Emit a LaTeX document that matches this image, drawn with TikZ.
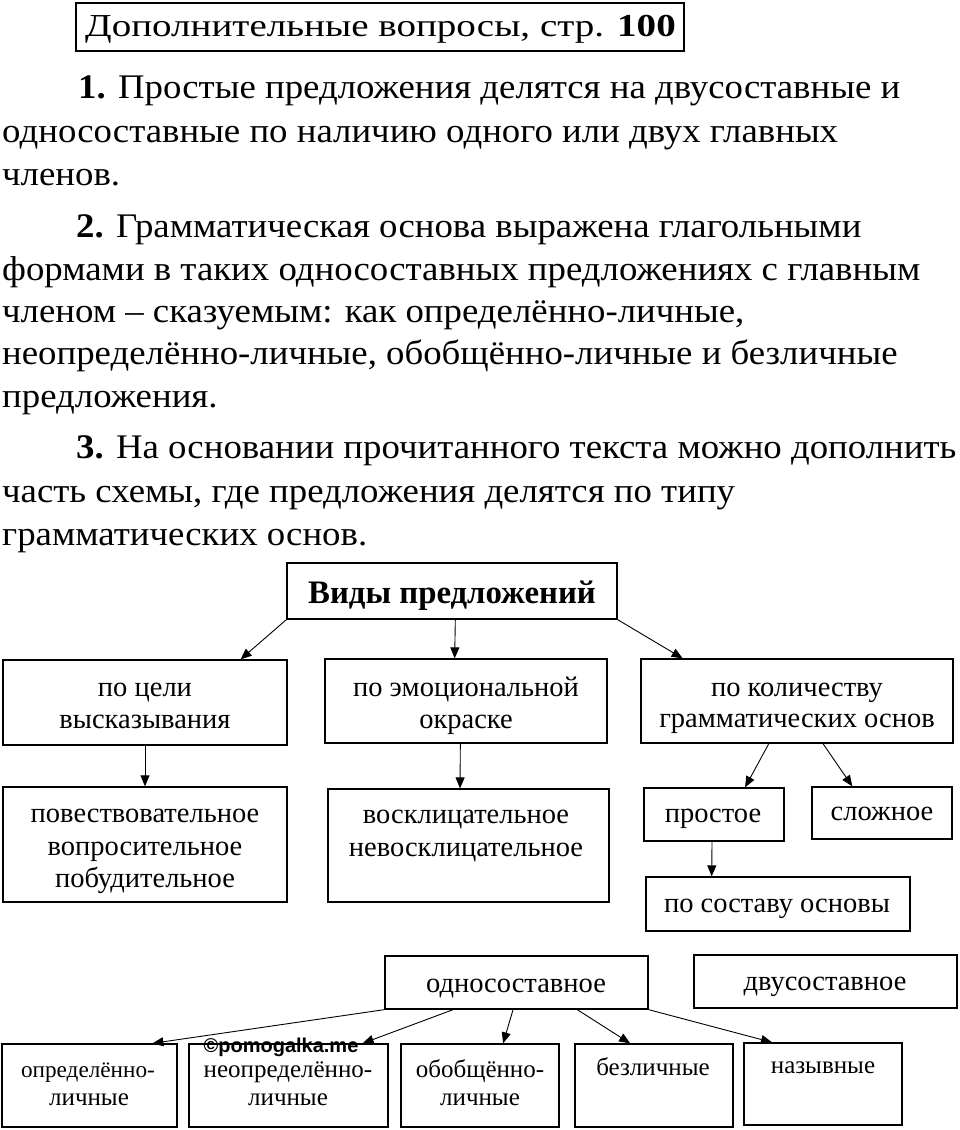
\documentclass[tikz,border=0pt]{standalone}
\usepackage{graphicx}
\usepackage{fontspec}
\setmainfont{Liberation Serif}
\newfontfamily\wmfont{Liberation Sans}
\usetikzlibrary{calc,arrows.meta}
\def\wide#1#2{\scalebox{#1}[1]{#2}}

\begin{document}
\begin{tikzpicture}[x=1pt,y=-1pt,
		box/.style={draw, line width=1.3pt, inner sep=0pt},
		txt/.style={anchor=base, inner sep=0pt, font=\fontsize{28.5}{32}\selectfont},
		small/.style={anchor=base, inner sep=0pt, font=\fontsize{25}{30}\selectfont},
		body/.style={anchor=base west, inner sep=0pt, font=\fontsize{34.5}{40}\selectfont},
		arr/.style={-{Triangle[length=11pt,width=9pt]}, line width=0.9pt}]
		\useasboundingbox (0,0) rectangle (960,1130);
		%%%%% TEXT %%%%%
		\node[draw, line width=2.6pt, minimum width=608pt, minimum height=48pt] (head) at (380,27) {};
		\node[anchor=base west, inner sep=0pt, font=\fontsize{32}{36}\selectfont] (headtxt) at (85,36) {\wide{1.22}{Дополнительные вопросы, стр. \textbf{100}}};
		
		\node[body] (p1a) at (78,98) {\wide{1.067}{\textbf{1.} Простые предложения делятся на двусоставные и}};
		\node[body] (p1b) at (2,142) {\wide{1.067}{односоставные по наличию одного или двух главных}};
		\node[body] (p1c) at (2,185) {\wide{1.067}{членов.}};
		
		\node[body] (p2a) at (76,237) {\wide{1.067}{\textbf{2.} Грамматическая основа выражена глагольными}};
		\node[body] (p2b) at (2,280) {\wide{1.067}{формами в таких односоставных предложениях с главным}};
		\node[body] (p2c) at (2,322) {\wide{1.067}{членом – сказуемым: как определённо-личные,}};
		\node[body] (p2d) at (2,364) {\wide{1.067}{неопределённо-личные, обобщённо-личные и безличные}};
		\node[body] (p2e) at (2,407) {\wide{1.067}{предложения.}};
		
		\node[body] (p3a) at (76,458) {\wide{1.067}{\textbf{3.} На основании прочитанного текста можно дополнить}};
		\node[body] (p3b) at (2,502) {\wide{1.067}{часть схемы, где предложения делятся по типу}};
		\node[body] (p3c) at (2,545) {\wide{1.067}{грамматических основ.}};
		
		%%%%% SCHEME %%%%%
		\node[box, minimum width=330pt, minimum height=56pt] (vid) at (452,591) {};
		\node[txt, font=\fontsize{32.8}{36}\selectfont\bfseries] (vidtxt) at (452,603) {Виды предложений};
		
		\node[box, minimum width=284pt, minimum height=85pt] (celi) at (145,702.5) {};
		\node[txt] (celi1) at (145,696) {по цели};
		\node[txt] (celi2) at (145,728) {высказывания};
		\node[box, minimum width=282pt, minimum height=84pt] (emo) at (466,701) {};
		\node[txt] (emo1) at (466,696) {по эмоциональной};
		\node[txt] (emo2) at (466,728) {окраске};
		\node[box, minimum width=312pt, minimum height=84pt] (kol) at (797,701) {};
		\node[txt] (kol1) at (797,696) {по количеству};
		\node[txt] (kol2) at (797,727) {грамматических основ};
		
		\node[box, minimum width=284pt, minimum height=115pt] (povest) at (145,844.5) {};
		\node[txt] (povest1) at (145,822) {повествовательное};
		\node[txt] (povest2) at (145,855) {вопросительное};
		\node[txt] (povest3) at (145,887) {побудительное};
		\node[box, minimum width=281pt, minimum height=113pt] (voskl) at (468.5,845.5) {};
		\node[txt] (voskl1) at (466,823) {восклицательное};
		\node[txt] (voskl2) at (466,856) {невосклицательное};
		\node[box, minimum width=140pt, minimum height=53pt] (prost) at (714,814.5) {};
		\node[txt] (prosttxt) at (713,822) {простое};
		\node[box, minimum width=140pt, minimum height=52pt] (slozh) at (882,813) {};
		\node[txt] (slozhtxt) at (882,820) {сложное};
		\node[box, minimum width=264pt, minimum height=54pt] (sostav) at (778,904) {};
		\node[txt] (sostavtxt) at (777,912) {по составу основы};
		
		\node[box, minimum width=263pt, minimum height=53pt] (odno) at (516.5,982.5) {};
		\node[txt] (odnotxt) at (516,992) {односоставное};
		\node[box, minimum width=263pt, minimum height=53pt] (dvu) at (825.5,981.5) {};
		\node[txt] (dvutxt) at (825,990) {двусоставное};
		
		\node[box, minimum width=175pt, minimum height=83pt] (opr) at (89.5,1085.5) {};
		\node[small, font=\fontsize{23.2}{28}\selectfont] (opr1) at (88,1077) {определённо-};
		\node[small] (opr2) at (89,1105) {личные};
		\node[box, minimum width=199pt, minimum height=83pt] (neopr) at (288.5,1085.5) {};
		\node[small] (neopr1) at (288,1077) {неопределённо-};
		\node[small] (neopr2) at (288,1105) {личные};
		\node[box, minimum width=158pt, minimum height=83pt] (obob) at (480,1085.5) {};
		\node[small] (obob1) at (480,1077) {обобщённо-};
		\node[small] (obob2) at (480,1105) {личные};
		\node[box, minimum width=158pt, minimum height=83pt] (bezl) at (654,1085.5) {};
		\node[small] (bezltxt) at (653,1075) {безличные};
		\node[box, minimum width=158pt, minimum height=82pt] (nazyv) at (823,1084) {};
		\node[small] (nazyvtxt) at (823,1073) {назывные};
		
		\node[inner sep=0pt, font=\wmfont\bfseries\fontsize{20}{24}\selectfont] (wm) at (281,1047) {©pomogalka.me};
		
		%%%%% ARROWS %%%%%
		\draw[arr] (vid.south west) -- ($(celi.north west)!.835!(celi.north east)$);
		\draw[arr] ($(vid.south west)!.51!(vid.south east)$) -- ($(emo.north west)!.46!(emo.north east)$);
		\draw[arr] (vid.south east) -- ($(kol.north west)!.135!(kol.north east)$);
		\draw[arr] (celi.south) -- (povest.north);
		\draw[arr] ($(emo.south west)!.48!(emo.south east)$) -- ($(voskl.north west)!.47!(voskl.north east)$);
		\draw[arr] ($(kol.south west)!.41!(kol.south east)$) -- ($(prost.north west)!.72!(prost.north east)$);
		\draw[arr] ($(kol.south west)!.583!(kol.south east)$) -- ($(slozh.north west)!.29!(slozh.north east)$);
		\draw[arr] ($(prost.south west)!.486!(prost.south east)$) -- ($(sostav.north west)!.25!(sostav.north east)$);
		
		\draw[arr] (odno.south west) -- ($(opr.north west)!.857!(opr.north east)$);
		\draw[arr] ($(odno.south west)!.26!(odno.south east)$) -- ($(neopr.north west)!.87!(neopr.north east)$);
		\draw[arr] ($(odno.south west)!.487!(odno.south east)$) -- ($(obob.north west)!.645!(obob.north east)$);
		\draw[arr] ($(odno.south west)!.73!(odno.south east)$) -- ($(bezl.north west)!.35!(bezl.north east)$);
		\draw[arr] (odno.south east) -- ($(nazyv.north west)!.18!(nazyv.north east)$);
		%%%%% END %%%%%
	\end{tikzpicture}
\end{document}
